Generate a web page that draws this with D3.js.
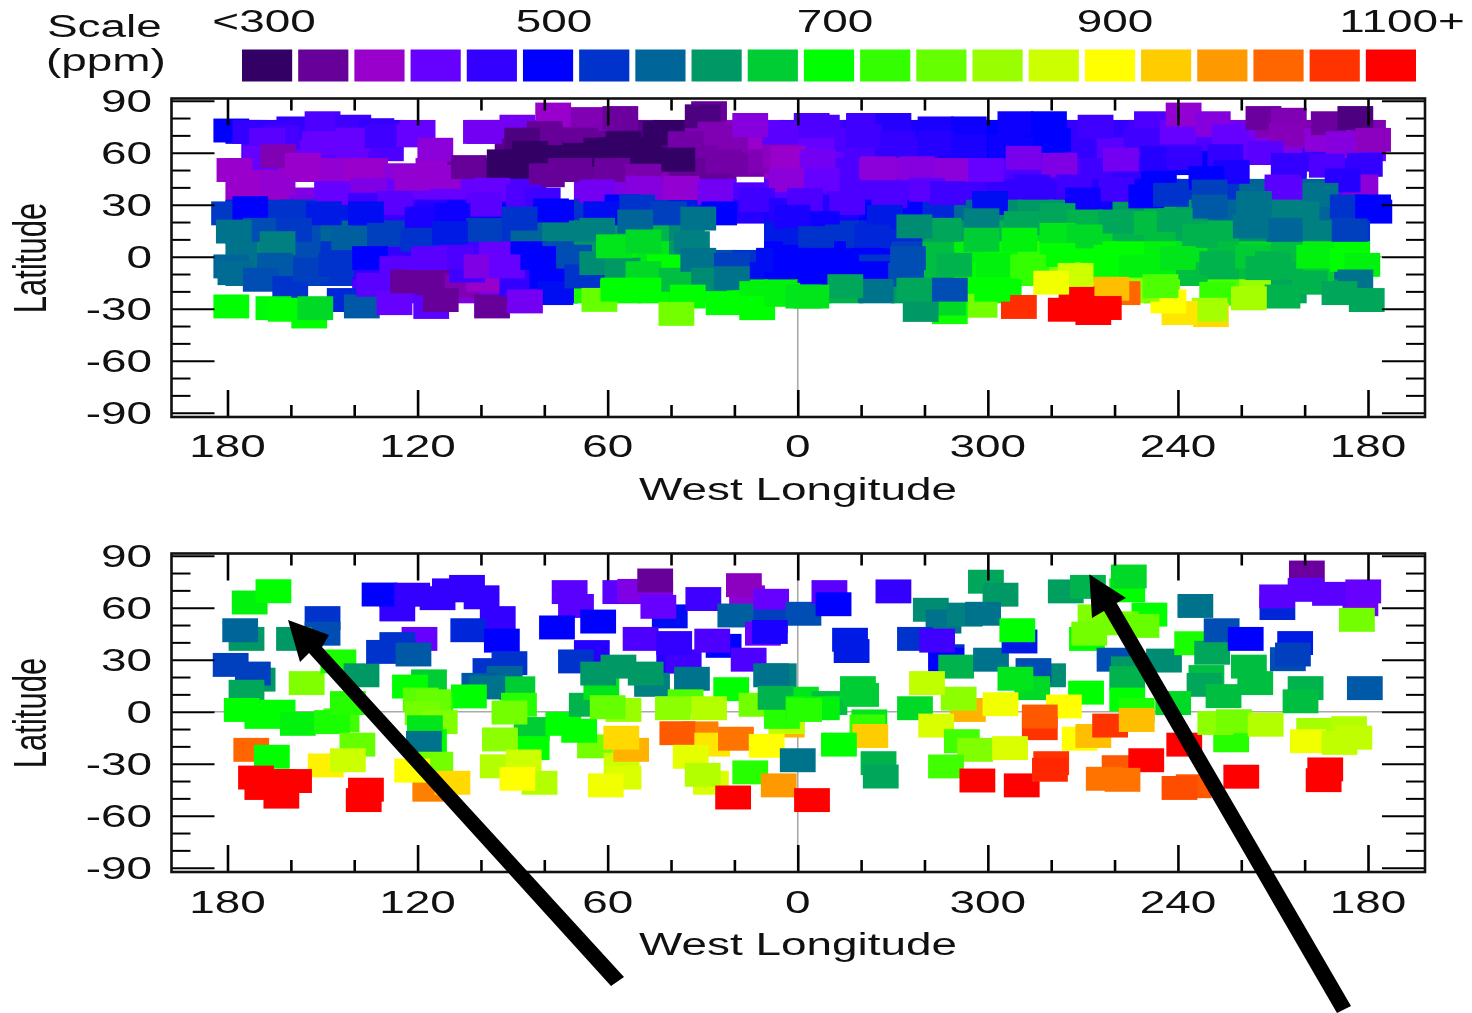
<!DOCTYPE html>
<html><head><meta charset="utf-8"><style>html,body{margin:0;background:#fff}svg{display:block;filter:blur(.45px)}text{font-family:"Liberation Sans",Arial,sans-serif;fill:#111}</style>
<script src="https://cdnjs.cloudflare.com/ajax/libs/d3/7.8.5/d3.min.js"></script></head><body><svg id="c" width="1472" height="1013"></svg>
<script>
const scaleColors=["#330066","#660099","#9900cc","#6600ff","#3300ff","#0000ff","#0033cc","#006699","#009966","#00cc33","#00ff00","#33ff00","#66ff00","#99ff00","#ccff00","#ffff00","#ffcc00","#ff9900","#ff6600","#ff3300","#ff0000"];
const scalePpm=[300,340,380,420,460,500,540,580,620,660,700,740,780,820,860,900,940,980,1020,1060,1100];
const scaleLabels=["<300","500","700","900","1100+"];
const lonTicks=[180,120,60,0,-60,-120,-180];
const lonTickLabels=["180","120","60","0","300","240","180"];
const lonMinor=[160,140,100,80,40,20,-20,-40,-80,-100,-140,-160];
const latTicks=[90,60,30,0,-30,-60,-90];
const latMinor=[80,70,50,40,20,10,-10,-20,-40,-50,-70,-80];
// [west longitude (east of 0 negative = 360-lon), latitude, ppm]
const upperRow72=[[175,72,480],[170,72,460],[160,72,460],[150,72,440],[140,72,460],[130,72,460],[120,72,420],[100,72,410],[90,72,340],[80,72,340],[70,72,360],[60,72,340],[50,72,330],[40,72,300],[30,72,360],[20,72,380],[10,72,420],[0,72,440],[-10,72,450],[-20,72,460],[-30,72,470],[-40,72,480],[-50,72,490],[-60,72,500],[-70,72,500],[-80,72,500],[-90,72,460],[-100,72,460],[-110,72,450],[-120,72,430],[-130,72,400],[-140,72,410],[-150,72,360],[-160,72,360],[-170,72,380],[-180,72,360]];
const upperRow62=[[170,62,440],[160,62,420],[150,62,430],[140,62,420],[130,62,440],[90,62,330],[80,62,300],[70,62,300],[60,62,300],[50,62,300],[40,62,320],[30,62,350],[20,62,360],[10,62,380],[0,62,400],[-10,62,420],[-20,62,440],[-30,62,460],[-40,62,460],[-50,62,480],[-60,62,500],[-70,62,490],[-80,62,500],[-90,62,460],[-100,62,430],[-110,62,440],[-120,62,440],[-130,62,440],[-140,62,420],[-150,62,400],[-160,62,400],[-170,62,380],[-180,62,420]];
const upperRow50=[[175,50,380],[165,50,380],[155,50,380],[145,50,390],[135,50,380],[125,47,390],[115,50,380],[105,50,340],[95,50,300],[85,50,300],[75,50,340],[65,50,340],[55,50,350],[45,50,360],[35,50,340],[25,50,340],[15,53,350],[5,50,380],[-5,50,410],[-15,50,440],[-25,50,390],[-35,50,390],[-45,50,390],[-55,50,420],[-65,50,440],[-75,50,440],[-85,50,440],[-95,50,450],[-105,50,460],[-115,54,480],[-125,54,500],[-135,50,480],[-155,50,460],[-165,56,460],[-175,50,460]];
const upperRow38=[[175,38,380],[165,38,380],[155,33,400],[145,38,420],[135,38,410],[125,38,420],[115,38,420],[105,38,420],[95,38,420],[85,38,440],[65,38,410],[55,38,400],[45,38,390],[35,38,390],[25,38,420],[15,36,440],[5,38,430],[-5,38,430],[-15,38,440],[-25,38,440],[-35,38,440],[-45,38,440],[-55,38,450],[-65,38,460],[-75,38,460],[-85,38,460],[-95,38,470],[-105,38,500],[-115,38,530],[-125,38,540],[-135,38,540],[-145,38,580],[-155,38,420],[-165,38,580],[-175,38,420]];
const upperRow26=[[175,26,530],[165,26,540],[155,26,540],[145,26,520],[135,26,470],[125,26,460],[115,26,470],[105,26,490],[95,26,500],[85,26,530],[75,26,500],[65,26,540],[55,26,530],[45,26,540],[35,26,520],[25,26,500],[15,26,470],[5,26,480],[-5,26,480],[-15,26,480],[-25,26,500],[-35,26,500],[-45,26,530],[-55,26,580],[-65,26,610],[-75,26,620],[-85,26,620],[-95,26,500],[-105,26,620],[-115,26,640],[-125,26,620],[-135,26,580],[-145,26,590],[-155,26,600],[-165,26,580],[-175,26,540],[-182,26,500]];
const upperRow14=[[175,14,600],[165,14,590],[155,14,560],[145,14,580],[135,14,560],[125,14,550],[115,14,520],[105,14,520],[95,14,540],[85,14,580],[75,14,600],[65,14,600],[55,14,620],[45,14,640],[35,14,610],[5,14,520],[-5,14,520],[-15,14,540],[-25,14,530],[-35,14,530],[-45,14,620],[-55,14,620],[-65,14,640],[-75,14,680],[-85,14,680],[-95,14,670],[-105,14,640],[-115,14,650],[-125,14,630],[-135,14,640],[-145,14,610],[-155,14,580],[-165,14,600],[-175,14,540]];
const upperRow2=[[175,2,590],[165,2,610],[155,2,560],[145,2,540],[135,2,520],[125,2,460],[115,2,440],[105,2,450],[95,2,420],[85,2,500],[75,2,560],[65,2,620],[55,2,690],[45,2,680],[35,2,620],[25,-3,560],[15,-3,540],[5,2,500],[-5,2,500],[-15,2,500],[-25,2,500],[-35,2,550],[-45,2,650],[-55,2,690],[-65,2,700],[-75,2,740],[-85,2,700],[-95,2,700],[-105,2,700],[-115,2,690],[-125,2,680],[-135,2,650],[-145,2,670],[-155,2,650],[-165,2,690],[-175,2,700]];
const upperRowM10=[[175,-10,590],[165,-10,560],[155,-10,550],[145,-10,540],[135,-10,460],[125,-10,440],[115,-10,340],[105,-10,480],[95,-10,420],[85,-10,460],[75,-10,510],[65,-10,540],[55,-10,620],[45,-10,680],[35,-10,660],[25,-10,590],[15,-10,510],[5,-10,500],[-5,-10,500],[-15,-10,500],[-25,-10,520],[-35,-10,550],[-45,-10,650],[-55,-10,700],[-65,-10,700],[-75,-10,740],[-85,-10,800],[-95,-10,700],[-105,-10,700],[-115,-10,690],[-125,-10,650],[-135,-10,640],[-145,-10,650],[-155,-10,640],[-165,-10,660],[-175,-10,580]];
const upperRowM20=[[135,-20,440],[125,-20,420],[115,-20,340],[105,-20,400],[95,-20,400],[85,-20,450],[75,-20,500],[65,-20,720],[55,-20,700],[45,-20,700],[35,-20,690],[25,-20,680],[15,-20,700],[5,-20,690],[-5,-20,680],[-15,-20,640],[-25,-20,600],[-35,-20,620],[-45,-20,580],[-55,-20,700],[-65,-20,700],[-95,-20,940],[-105,-20,820],[-115,-20,780],[-135,-20,760],[-145,-20,820],[-155,-20,630],[-175,-20,630]];
const upperBlueRow=[[178.8,72.8,500],[172.8,72,460],[158.9,74,460],[150,77,440],[140.3,75,450],[133,73,460],[140.3,67.5,420],[150.9,65.5,420],[162.9,69,445],[167.5,67.5,430],[131,69.4,450],[121,70,420],[169.5,57,420],
[-7.6,75,440],[-20.9,76,450],[-30.2,76,470],[-43.5,74,480],[-54,74,490],[-68.7,77,490],[-79.3,77,500],[-94,75,450],[-111.8,77,440],[1.7,69.4,440],[-10.2,67.4,440],[-20.9,69.4,450],[-31.5,65.5,460],[-43.5,65.5,470],[-54,63.6,480],[-66,63.6,490],[-80.6,67.4,500],[-108.5,67.4,450],[-4.4,76,440],[-5.8,61.7,420],[5.5,71.3,430]];
const upperPurple=[[114.4,61.7,390],[177.8,50,380],[174.8,41.5,380],[164.2,42.5,385],[164,58,360],[156.2,53,380],[145.6,50,385],[137.6,49,380],[147,36.7,420],[121.7,45,385],[112,46,385],[135.4,38.6,400],
[103.8,51.7,340],[77.2,82,380],[66,79.4,360],[56,80,345],[88.5,75,410],[99,72,410],[79.9,71.3,340],[87,67.5,320],[68.6,67.5,340],[55,65.5,300],[43.3,71.3,300],[28,82.8,340],[30,81,320],[26,71,360],[15,76,395],[35.4,65.5,350],[92.5,55,300],[84.5,59.8,300],[62,61.7,300],[48.7,58.8,300],[38,56,300],[68.6,58.8,300],[70.6,50,340],[79.2,47,340],[58.6,50,345],[48.7,46.7,355],[23.4,55,350],[10,55,360],[5.5,57.8,370],[3,57,380],[-6.3,55,410],[3,44.4,390],[3.5,44.4,390],
[-25.5,51,390],[-37.5,51,395],[-48.7,50,390],[-59.4,50,420],[-71.3,57,405],[-82.6,53,400],[-102,56,410],[-7.6,44.4,420],[36.7,39.6,385],[26,36.7,410],[48.7,39.6,395],[63.3,37.6,410]];
const upperRightNorth=[[-120,72,420],[-121.8,82,385],[-131,77,395],[-136.4,69.4,420],[-147,80,345],[-155,79,360],[-154.3,70.3,365],[-165.6,67.4,390],[-167.6,77,345],[-176,80,320],[-172.3,65.5,395],[-181.6,67.4,370],[-147.7,59.8,430],[-155,53,460],[-167,52.5,440],[-179,53,460],[-113.8,57,470],[-122,57,460],[-135,58,460],[-137,49,480],[-177.6,40.5,390],[-153,40.5,430],[-172,44,470],[-129,45.4,500],[-114,42.4,500]];
const upperMidBand=[[136.3,30,450],[127,31,430],[96.5,38.6,420],[99,30,430],[86.5,34.8,440],[80.5,33,450],[55.3,29,500],[12.8,32.8,450],[3.5,27,470],[24.8,25,500],[-4.4,29,470],
[-15.6,31,440],[-28.9,34.8,440],[-40.8,38.6,430],[-47.4,36.7,450],[-2.3,32.8,440],[-74,40.5,460],[-87.3,40.5,450],[-100.6,38.6,450],[-60.7,31,510],[-7.6,19.4,490],[1.7,23,480],[-27.5,23,520],[-90,33,490],[-93,25,490],[-110,34.8,500],
[179.5,25,545],[172.8,28,500],[157.6,26,540],[149.6,25,520],[118.4,22,480],[109,24,490],[136.3,25,510],[77.9,26.7,500],[87.8,22,540],[99,15.5,550],[50.7,29,540],[62,25,510],[40.7,25,550],[51.3,20.3,580],[31.4,22,590],[63.3,15.5,600],
[169.5,15.5,560],[159,15.5,545],[178,14.5,590],[164.2,7.8,600],[141.6,10.7,575],[130.3,12.6,550],[119.7,9.8,540],[109.8,13.6,520],
[-117.8,35.7,540],[-130,37.6,550],[-130,29,570],[-144,31,590],[-165,35.7,590],[-159,25,600],[-173.6,29,540],[-174.2,15.5,550],[-181.6,29,500],[-153.7,15.5,580],[-143,17.5,590]];
const upperGreenBand=[[-46,15.5,630],[-36.8,17.5,610],[-58,21,600],[-70.7,19.4,630],[-82,24,630],[-90.6,20.3,640],[-100.6,20.3,630],[-111.8,19.4,650],[-119,21,630],[-127,12,640],[-82,12.6,680],[-90.6,11.7,670],[-58,9.8,660],[-70,9.8,690],
[-1,9.8,520],[-14.3,11.7,540],[-23.5,11.7,530],[-9.6,2,500],[-1,0,500],[-22,-1.8,500],[-25,-5.6,540],[-5.6,-11.4,500],[-23.5,-9.5,500],[-34.8,-0.8,560],[-34.2,-10.4,560],[-5.8,10.7,540],[7.5,-1.8,510],[2.2,-1.8,500],[-5.8,-1.8,500],
[-49.4,-4.7,640],[-62,-4.7,690],[-82,1,700],[-99,0,700],[-98,-7.5,700],[-107,-5.6,690],[-72.7,-5.6,740],[-120,-0.8,680],[-132.4,-3.7,640],[-143.7,0,660],[-150,-3.7,640],[-147,-6.6,640],[-163,0,690],[-173.6,-1.8,700],[-178.2,-4.7,690]];
const upperLowBand=[[178.8,-5.6,580],[177.5,-9.5,585],[165,-4.7,570],[169.5,-13.3,560],[160.2,-18,540],[153.6,-7.5,550],[145.6,-4.7,540],[135,-0.8,500],[143,-25,530],[137.6,-28.7,570],[126.4,-6.6,430],[133.7,-16.2,430],[127.3,-26.8,420],[115.7,-29,430],[123,-14.3,340],[115,-11.4,340],[105.8,-17.2,360],[99,-13.3,380],[112.7,-25,340],[96.5,-28.7,340],[88.5,-16,460],[79,-11.4,500],[76.5,-21,510],[104.4,-8,450],[107.8,0,440],[116.4,-0.8,430],[99.8,-5.6,400],[91.8,-5.6,420],[86.1,-25.8,410],[81.9,-0.8,500],[70.6,0,560],[68,-11.4,540],
[63.3,-3.7,610],[55.3,-7.5,620],[58,6,680],[48.7,8.8,670],[33.4,7.8,600],[42,-5.6,700],[48.7,-9.5,670],[38.3,-13.3,650],[31.4,-1.8,590],[20.8,-4.7,550],[28,-13.3,610],[20.8,-12.4,590],[178.8,-28.7,700],[165.5,-29.7,695],[161.6,-30.6,700],[154.2,-34.5,700],[152.3,-29.7,670],
[62.6,-24.9,780],[56.6,-19,700],[48.7,-19,700],[34.7,-23,700],[38.3,-33,790],[23.4,-26.8,700],[12.8,-21,690],[12.8,-29.7,700],[4.9,-22,690],[-1.8,-23,680],
[-161.6,-15,640],[-176,-14.3,590],[-153,-23,640],[-171,-21,630],[-179.6,-25,630],[-132.4,-21.4,740],[-142.4,-24,830],[-130.4,-33.7,930],[-130,-30.6,830],[-120.5,-32.5,920],[-117,-25.8,900],[-108.5,-19,810],[-114.5,-17,760],[-102.5,-21,1020],[-99,-18.5,950],[-88,-24,1100],[-84.6,-30.6,1100],[-93.3,-32.5,1100],[-96.6,-29.6,1100],[-69.8,-29,1065],[-57.4,-28.3,790],[-87.7,-10.5,860],[-80,-15,890],[-61.4,-19,700],[-48,-32,710],[-47.4,-27,670],[-38.8,-30.7,620],[-36.8,-19,630],[-48,-19,560],[-24.6,-19.7,590],[-15,-17,630],[-4.3,-23,680]];
const lowerNorth=[[173,63,690],[165.5,69.5,700],[174,42,620],[176,47,580],[150,54,540],[150,45,560],[159,42,620],[179,27,550],[170.5,18.5,620],[172,22,550],[174,11.5,630],[155,16.5,800],[145,29,720],[137.7,21,620],
[126.4,59,460],[126.4,67,460],[132,67.6,500],[121.7,67.5,460],[109.8,70,460],[113.7,65.5,460],[104.4,72,460],[99.8,66,460],[94.7,54,460],[119.4,42,420],[126.4,39,540],[130.6,34.5,540],[121.3,33,570],[104,47,530],[93.4,41,500],[91,28,540],[97,24,540],[92.5,19.5,580],[88.5,13.5,660],[100.5,15.5,570],[98,14,590],
[72,69,430],[70,61,430],[76,48.6,500],[63,52,500],[65,34.4,470],[70,29,540],[56,69,430],[51.3,69.7,400],[45,69,400],[40.4,55,510],[44,60.5,420],[45,75.7,340],[49.6,42,440],[39,29,470],[36,29,450],[39,39.6,460],[29.8,65,450],[16,66,390],[17,73,370],[8.4,64,420],[8.8,52,550],[19.7,55.5,575],[-1.8,56.5,560],[23.4,38,500],[27,41,440],[15.5,30,440],[11,45,420],[8.8,46,480],
[-10,69,430],[-11.3,62,500],[-30.2,69.4,460],[-16.5,41.5,520],[-17,35,520],[-59.4,75,630],[-64,67.5,620],[-84.6,69.4,625],[-91.6,72,640],[-104,70,700],[-104.5,78,670],[-111,56,700],[-42,58.8,610],[-46,52,590],[-52.7,56,600],[-58.5,56.5,590],[-37,42,540],[-47,32,540],[-46.8,30,500],[-44,41,450],[-50,26,640],[-61,30,590],[-70,40.5,520],[-69.3,47,700],[-79,21,610],[-74.4,24,560],[-74,13.6,670],[-68.7,19,680],[-91.3,42,700],[-94,55,800],[-101.9,51,790],[-108.5,49.5,780],[-92,45,790],[-100,30,560],[-104.5,25,620],[-115.6,29.5,610],[-104,19.4,640],[-124.5,39.5,720],[-130.8,34,630],[-133.8,47,560],[-141.4,42,500],[-125.5,61,590],[-151.4,59.8,530],[-154.7,30.3,560],[-157,39.6,520],[-156.3,33,550],[-151.3,66.5,430],[-160.7,80.3,345],[-177.6,62,410],[-160.3,70.3,430],[-168,68,430],[-178.5,69.4,420],[-176.5,53,790],[-179,13.6,570]];
const lowerEquator=[[175.5,1,700],[164.2,0,700],[169,-3,700],[157.8,-7,690],[144,-5,750],[147,-6,720],[142,5,730],[116.4,17.5,660],[122.4,14.5,700],[103.8,8.8,700],[114.4,2,720],[119,7,770],[115,6,780],[118.4,-0.8,790],[113,-6,800],[116.4,-17,700],[117.7,-9,680],[118,-18,590],
[84,-10,660],[84,-21,700],[94,-16,810],[88,4,730],[91,-0.5,790],[74,-7,700],[64,-20,790],[69,-11,700],[66.6,4,640],[55,1,820],[62,13.6,680],[60,2.6,780],[63,22,620],[56.6,26,620],[46,15.5,600],[48,22,620],[33.4,19,590],[21,13,700],[6,21,600],[8.4,21,590],
[35.4,6,760],[39.4,2,810],[28,2,840],[13,4,790],[-1,7.5,680],[3.5,-8,960],[3.5,-6,850],[5,-3,730],[7,8,640],[-1.8,2,700],[-10,5,650],[-7.6,2,690],[-2,1,730],[-19,13.6,660],[-20,9.7,660],[-142.4,26,650],[-144.4,16.5,650],[-129,20,650],[-128.4,15.5,630],[-134.4,9,650],[-160.3,13.6,640],[-158.7,6,650],[-104,7,700],[-107,1,720],[-118.5,5,670],[-91,11,700],[-53.7,1,960],[-50.8,7.5,810],[-40.8,16.5,850],[-37,2,670],[-84,3,900],[-64,4.3,890],[-22.6,-5.6,680],[-22,-8.5,740]];
const lowerSouth=[[139,-19,780],[149,-31,910],[142,-28,860],[172.5,-22,1020],[166,-26,700],[171,-38,1100],[164,-40,1100],[159,-40,1100],[169,-44,1100],[163,-49,1100],[136.3,-45,1100],[137,-51,1100],[114.4,-30,790],[116,-45,1000],[121.7,-34,900],[109,-41,930],
[94.7,-31.5,840],[86.5,-28.7,860],[81.5,-41,840],[88.5,-38.7,900],[55.6,-30.6,860],[55,-38,870],[60.6,-42.5,890],[52.6,-22,960],[55.7,-15,930],[30.7,-12.5,1000],[38,-12.4,1030],[27,-19,920],[19.5,-15.6,1010],[9.8,-19.7,900],[33.8,-26,880],[27.4,-41,870],[30,-36.4,840],[15,-35,730],[0,-28,590],[6,-42.5,980],[20.4,-49.5,1100],[-4.5,-51,1100],
[-22.9,-14,940],[-13,-19,700],[-25.5,-29.7,640],[-26.2,-37.4,630],[-43.7,-8,870],[-76.4,-9.5,1060],[-76.4,-2.8,1030],[-51.8,-17,750],[-56,-22,800],[-67,-21,870],[-46.8,-31.6,750],[-56.7,-39.7,1100],[-70.7,-42.5,1100],[-80,-29.7,1060],[-79.6,-33.5,1070],[-101.6,-32,1030],[-110,-28,1100],[-96.6,-38.7,1010],[-102.5,-39.3,1010],[-89,-15.6,900],[-93.3,-14,950],[-98.6,-8,1060],[-107,-4.8,950],[-122,-19,1100],[-136.8,-16.5,730],[-125,-43,1030],[-120.5,-44,1040],[-140,-37.5,1100],[-166.5,-33.3,1100],[-166,-39.5,1100],[-131.8,-6.5,810],[-137.7,-5.5,790],[-147.7,-7.5,840],[-163,-10.5,830],[-174,-9.5,840],[-175.7,-15,850],[-161,-17,890],[-171,-18,850]];

const upperSwaths=[...upperRow72,...upperRow62,...upperRow50,...upperRow38,...upperRow26,...upperRow14,...upperRow2,...upperRowM10,...upperRowM20,...upperBlueRow,...upperPurple,...upperRightNorth,...upperMidBand,...upperGreenBand,...upperLowBand];
const lowerSwaths=[...lowerNorth,...lowerEquator,...lowerSouth];
const swathLon=11.3, swathLat=13.8;

const svg=d3.select("#c");
const color=d3.scaleLinear().domain(scalePpm).range(scaleColors).clamp(true);
const x=d3.scaleLinear().domain([180,-180]).range([227.5,1368]);
const labelText=(g,t,px,py,anchor)=>g.append("text").attr("transform",`translate(${px},${py}) scale(1.48,1)`).attr("text-anchor",anchor||"middle").attr("font-size",31).text(t);

// legend
const band=d3.scaleBand().domain(scalePpm).range([242,1416]).paddingInner(.107);
svg.append("g").selectAll("rect").data(scalePpm).join("rect").attr("x",d=>band(d)).attr("y",49.5).attr("width",band.bandwidth()).attr("height",32).attr("fill",d=>color(d));
const lg=svg.append("g");
labelText(lg,"Scale",47,37,"start");labelText(lg,"(ppm)",46,71,"start");
[264,554,835,1115,1402].forEach((px,i)=>labelText(lg,scaleLabels[i],px,32));

function panel(dy,data){
 const y=d3.scaleLinear().domain([90,-90]).range([100.7+dy,412.7+dy]);
 const g=svg.append("g");
 const L=171.5,R=1425,T=98.5+dy,B=417+dy;
 g.append("line").attr("x1",x(0)).attr("x2",x(0)).attr("y1",T).attr("y2",B).attr("stroke","#aaa").attr("stroke-width",1.6);
 g.append("line").attr("x1",214).attr("x2",1382).attr("y1",y(0)).attr("y2",y(0)).attr("stroke","#aaa").attr("stroke-width",1.6);
 g.append("g").selectAll("rect").data(data).join("rect")
  .attr("x",d=>x(d[0]+swathLon/2)).attr("y",d=>y(d[1]+swathLat/2))
  .attr("width",d=>x(d[0]-swathLon/2)-x(d[0]+swathLon/2)).attr("height",d=>y(d[1]-swathLat/2)-y(d[1]+swathLat/2))
  .attr("fill",d=>color(d[2]));
 const tk=(sel,w)=>{sel.select(".domain").remove();sel.selectAll("line").attr("stroke","#000").attr("stroke-width",w);sel.selectAll("text").remove();};
 g.append("g").attr("transform",`translate(0,${B})`).call(d3.axisTop(x).tickValues(lonTicks).tickSize(27)).call(tk,2.6);
 g.append("g").attr("transform",`translate(0,${B})`).call(d3.axisTop(x).tickValues(lonMinor).tickSize(12)).call(tk,2.6);
 g.append("g").attr("transform",`translate(0,${T})`).call(d3.axisBottom(x).tickValues(lonTicks).tickSize(27)).call(tk,2.6);
 g.append("g").attr("transform",`translate(0,${T})`).call(d3.axisBottom(x).tickValues(lonMinor).tickSize(12)).call(tk,2.6);
 g.append("g").attr("transform",`translate(${L},0)`).call(d3.axisRight(y).tickValues(latTicks).tickSize(43)).call(tk,2);
 g.append("g").attr("transform",`translate(${L},0)`).call(d3.axisRight(y).tickValues(latMinor).tickSize(19)).call(tk,2);
 g.append("g").attr("transform",`translate(${R},0)`).call(d3.axisLeft(y).tickValues(latTicks).tickSize(43)).call(tk,2);
 g.append("g").attr("transform",`translate(${R},0)`).call(d3.axisLeft(y).tickValues(latMinor).tickSize(19)).call(tk,2);
 g.append("rect").attr("x",L).attr("y",T).attr("width",R-L).attr("height",B-T).attr("fill","none").attr("stroke","#111").attr("stroke-width",2.6);
 lonTicks.forEach((d,i)=>labelText(g,lonTickLabels[i],x(d),457+dy+(dy?1:0)));
 latTicks.forEach(d=>labelText(g,String(d),152,y(d)+11,"end"));
 labelText(g,"West Longitude",798,500+dy);
 g.append("text").attr("transform",`translate(46,${258+dy}) scale(1.48,1) rotate(-90)`).attr("text-anchor","middle").attr("font-size",31).text("Latitude");
}
panel(0,upperSwaths);
panel(455,lowerSwaths);

// annotation arrows
const arrows=[[[288,620],[329,635],[322,647],[624,977],[611,986],[309,653],[300,662]],[[1089.3,574.3],[1126,598],[1116.7,603],[1351,1006],[1337,1013],[1104,611],[1092,618]]];
svg.append("g").selectAll("polygon").data(arrows).join("polygon").attr("points",d=>d.join(" ")).attr("fill","#000");
</script></body></html>
